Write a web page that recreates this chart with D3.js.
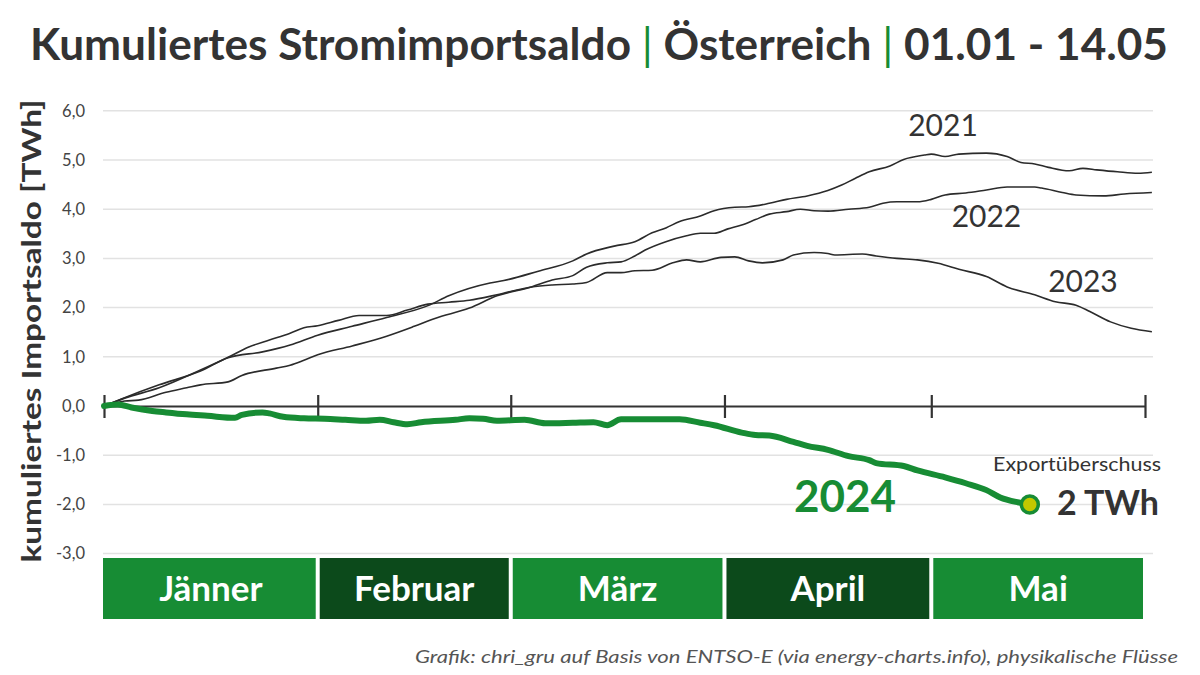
<!DOCTYPE html>
<html><head><meta charset="utf-8">
<script src="https://cdn.jsdelivr.net/npm/d3@7"></script>
<style>body{margin:0;background:#fff} svg{display:block;font-family:Lato,"Noto Sans",sans-serif}</style>
</head><body><svg id="c" width="1200" height="675"></svg>
<script>
// ---- data ----
const yTicks = [-3,-2,-1,0,1,2,3,4,5,6];
const yTickLabels = ["-3,0","-2,0","-1,0","0,0","1,0","2,0","3,0","4,0","5,0","6,0"];
const months = ["Jänner","Februar","März","April","Mai"];
const monthStarts = [0,31,59,90,120,151];

const days2021 = [0,3,8,14,18,23,27,31,36,41,47,50,56,58,63,68,70,74,77,79.5,81.5,83.5,86.5,88.5,91.5,93.5,96.5,99,102,105,107,109,111,114,116,119,120,122,124,128,131,133,135,137,140,142,144,147,150,152];
const vals2021 = [0,0.17,0.43,0.71,0.98,1.1,1.24,1.44,1.62,1.80,2.04,2.24,2.5,2.55,2.74,2.95,3.09,3.25,3.34,3.52,3.62,3.75,3.86,3.97,4.04,4.05,4.12,4.2,4.27,4.38,4.49,4.63,4.76,4.88,5.01,5.10,5.12,5.07,5.12,5.14,5.07,4.95,4.92,4.85,4.78,4.83,4.80,4.76,4.73,4.75];

const days2022 = [0,3,5,9,12,14,18,20,25,27,29,31,36,41,45,48,53,57,62,65,68,70,73,75,77,78.5,81.5,84.5,86.5,88.5,90.5,92.5,94.5,96.5,99,101,103,105,108,111,113,115,118,120,122,125,128,131,135,136,139,141,145,148,152];
const vals2022 = [0,0.1,0.12,0.28,0.37,0.43,0.49,0.62,0.77,0.83,0.93,1.04,1.22,1.42,1.62,1.78,1.99,2.24,2.42,2.56,2.65,2.82,2.91,2.93,3.05,3.17,3.34,3.46,3.51,3.51,3.6,3.68,3.79,3.9,3.95,4.0,3.97,3.96,4.0,4.04,4.12,4.15,4.15,4.2,4.29,4.33,4.39,4.45,4.45,4.43,4.34,4.29,4.27,4.31,4.34];

const days2023 = [0,3,8,14,18,21,24,27,29,31,34,37,41,44,47,50,53,57,62,65,68,70,73,75,77,79.5,82.5,84.5,86.5,89.5,91.5,93.5,95.5,98.5,100,103,105,106,110,112,115,118,121,124,128,131,135,138,141,143,146,149,152];
const vals2023 = [0,0.16,0.37,0.73,0.99,1.2,1.34,1.48,1.59,1.63,1.74,1.84,1.84,1.95,2.07,2.11,2.15,2.26,2.42,2.46,2.48,2.51,2.71,2.71,2.75,2.76,2.91,2.97,2.93,3.02,3.03,2.95,2.91,2.97,3.07,3.12,3.10,3.07,3.09,3.05,3.0,2.97,2.9,2.78,2.63,2.42,2.26,2.12,2.05,1.92,1.71,1.58,1.51];

const days2024 = [0,2,4,7,9,12,15,19,20,23,24,26,29,32,35,38,40,42,44,46,51,53,55,57,61,64,68,71,73,75,77.5,81.5,83.5,86.5,88.5,92.5,94.5,96.5,100,102,105,108,111,112,116,118,122,125,128,130,133,134];
const vals2024 = [0,0.03,-0.03,-0.1,-0.13,-0.17,-0.2,-0.24,-0.18,-0.13,-0.15,-0.22,-0.25,-0.26,-0.28,-0.30,-0.28,-0.33,-0.37,-0.33,-0.28,-0.25,-0.26,-0.30,-0.28,-0.35,-0.34,-0.33,-0.39,-0.27,-0.27,-0.27,-0.27,-0.34,-0.39,-0.54,-0.59,-0.6,-0.73,-0.81,-0.89,-1.02,-1.10,-1.16,-1.22,-1.31,-1.45,-1.57,-1.71,-1.86,-1.97,-2.0];

const seriesNames = ["2021","2022","2023"];

// ---- drawing ----
const svg = d3.select("#c");
const x = d3.scaleLinear().domain([0,151]).range([104,1145]);
const y = d3.scaleLinear().domain([-3,6]).range([553.6,110.8]);
const GREEN = "#178c34", DARK = "#0c4a1b", INK = "#333";

// title
const title = svg.append("text").attr("x",30).attr("y",60)
  .attr("font-size",44).attr("font-weight",700).attr("fill",INK)
  .attr("textLength",1138).attr("lengthAdjust","spacingAndGlyphs");
title.append("tspan").text("Kumuliertes Stromimportsaldo ");
title.append("tspan").attr("fill",GREEN).attr("font-weight",400).text("|");
title.append("tspan").text(" Österreich ");
title.append("tspan").attr("fill",GREEN).attr("font-weight",400).text("|");
title.append("tspan").text(" 01.01 - 14.05");

// gridlines
svg.append("g").selectAll("line").data(yTicks.filter(d=>d!==0)).join("line")
  .attr("x1",103).attr("x2",1153)
  .attr("y1",d=>y(d)).attr("y2",d=>y(d))
  .attr("stroke","#e2e2e2").attr("stroke-width",1.5);

// y axis labels
const yAxis = d3.axisLeft(y).tickValues(yTicks).tickSize(0).tickPadding(0)
  .tickFormat((d,i)=>yTickLabels[i]);
const gy = svg.append("g").attr("transform","translate(85,0)").call(yAxis);
gy.select(".domain").remove();
gy.selectAll("text").attr("font-size",16.5).attr("fill","#444").attr("font-family","Lato");

// y axis title
svg.append("text").attr("transform","translate(41,331) rotate(-90)")
  .attr("text-anchor","middle").attr("font-size",27).attr("font-weight",700).attr("fill",INK)
  .attr("textLength",463).attr("lengthAdjust","spacingAndGlyphs")
  .text("kumuliertes Importsaldo [TWh]");

// older years
const line = d3.line().x(d=>x(d[0])).y(d=>y(d[1])).curve(d3.curveMonotoneX);
const old = [[days2021,vals2021],[days2022,vals2022],[days2023,vals2023]];
svg.append("g").selectAll("path").data(old).join("path")
  .attr("d",s=>line(d3.zip(s[0],s[1])))
  .attr("fill","none").attr("stroke","#2b2b2b").attr("stroke-width",1.6);

// x axis at zero
const xAxis = d3.axisBottom(x).tickValues(monthStarts).tickSizeInner(12).tickSizeOuter(0).tickFormat("");
const gx = svg.append("g").attr("transform",`translate(0,${y(0)})`).call(xAxis);
gx.select(".domain").attr("stroke",INK).attr("stroke-width",2.2);
gx.selectAll(".tick line").attr("y1",-11).attr("stroke",INK).attr("stroke-width",2.2);

// 2024
svg.append("path").attr("d",line(d3.zip(days2024,vals2024)))
  .attr("fill","none").attr("stroke",GREEN).attr("stroke-width",6)
  .attr("stroke-linejoin","round").attr("stroke-linecap","round");
const lastI = days2024.length-1;
svg.append("circle").attr("cx",x(days2024[lastI])+2).attr("cy",y(vals2024[lastI])).attr("r",8.5)
  .attr("fill","#c3c800").attr("stroke",GREEN).attr("stroke-width",3.5);

// year labels
const yearPos = {"2021":[121.7,5.49],"2022":[128,3.64],"2023":[142,2.32]};
seriesNames.forEach(n=>{
  svg.append("text").attr("x",x(yearPos[n][0])).attr("y",y(yearPos[n][1]))
    .attr("text-anchor","middle").attr("font-size",30).attr("fill",INK).text(n);
});
svg.append("text").attr("x",x(107.5)).attr("y",y(-2.15)).attr("text-anchor","middle")
  .attr("font-size",44).attr("font-weight",700).attr("fill",GREEN).text("2024");

svg.append("text").attr("x",1077).attr("y",471).attr("text-anchor","middle")
  .attr("font-size",19).attr("fill",INK)
  .attr("textLength",168).attr("lengthAdjust","spacingAndGlyphs").text("Exportüberschuss");
svg.append("text").attr("x",1057).attr("y",515)
  .attr("font-size",34).attr("font-weight",700).attr("fill",INK).text("2 TWh");

// month bars
const mg = svg.append("g").selectAll("g").data(months).join("g");
mg.append("rect")
  .attr("x",(d,i)=> i===0 ? x(monthStarts[i])-1 : x(monthStarts[i])+2)
  .attr("width",(d,i)=> (x(monthStarts[i+1])-2) - (i===0 ? x(monthStarts[i])-1 : x(monthStarts[i])+2))
  .attr("y",558).attr("height",61)
  .attr("fill",(d,i)=> i%2===0 ? GREEN : DARK);
mg.append("text")
  .attr("x",(d,i)=> (x(monthStarts[i])+x(monthStarts[i+1]))/2)
  .attr("y",601).attr("text-anchor","middle")
  .attr("font-size",35).attr("font-weight",700).attr("fill","#fff").text(d=>d);

// footer
svg.append("text").attr("x",1178).attr("y",663).attr("text-anchor","end")
  .attr("font-size",17).attr("font-style","italic").attr("fill","#555")
  .attr("textLength",763).attr("lengthAdjust","spacingAndGlyphs")
  .text("Grafik: chri_gru auf Basis von ENTSO-E (via energy-charts.info), physikalische Flüsse");
</script></body></html>
